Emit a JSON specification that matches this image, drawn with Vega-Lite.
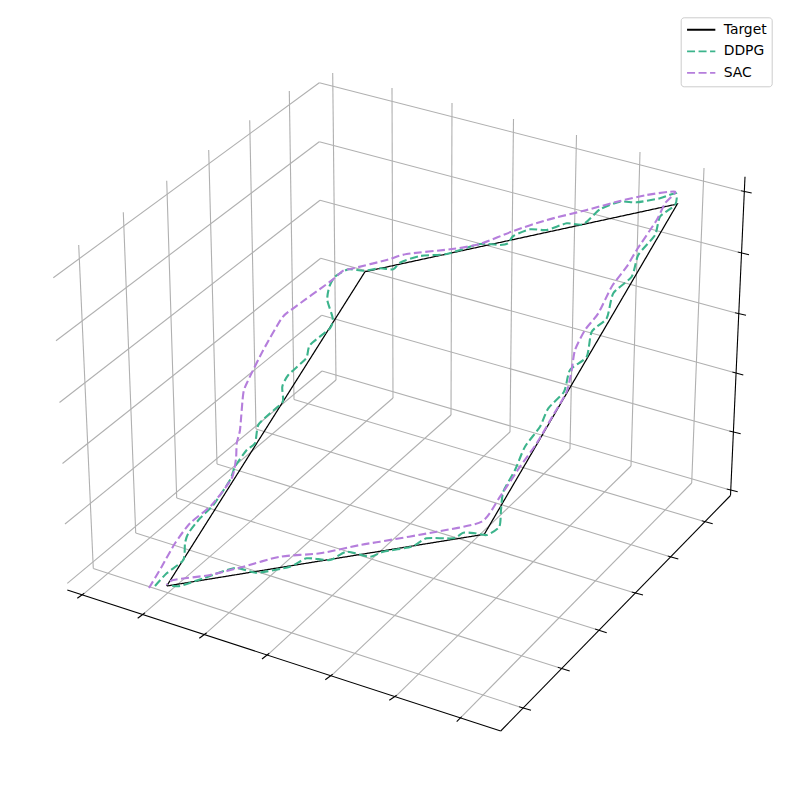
{"$schema":"https://vega.github.io/schema/vega-lite/v6.json","width":790,"height":790,"padding":0,"autosize":{"type":"fit","contains":"padding"},"background":"white","config":{"view":{"stroke":null}},
"datasets":{
"grid":[
{"x":78.7,"y":245,"x2":93.3,"y2":568.5},{"x":123.3,"y":212.3,"x2":135.7,"y2":533},{"x":166.7,"y":180.7,"x2":176.7,"y2":498},{"x":208.7,"y":150,"x2":217,"y2":464},{"x":249.7,"y":120.3,"x2":256,"y2":429},{"x":289.3,"y":91,"x2":294,"y2":399.5},
{"x":332.7,"y":73,"x2":336,"y2":380},{"x":392,"y":88,"x2":393,"y2":398},{"x":452,"y":103,"x2":451,"y2":415},{"x":513.5,"y":119,"x2":510,"y2":432},{"x":576.5,"y":135,"x2":570,"y2":449},{"x":640,"y":152,"x2":631,"y2":466},{"x":704,"y":168,"x2":691.7,"y2":483},
{"x":53.3,"y":277.7,"x2":319.3,"y2":82.7},{"x":56,"y":340.7,"x2":319.3,"y2":141.7},{"x":59.5,"y":402.5,"x2":320,"y2":200.3},{"x":62.5,"y":463.5,"x2":320.7,"y2":258.3},{"x":65,"y":524,"x2":321.7,"y2":315.3},{"x":67.3,"y":583.3,"x2":322,"y2":371},
{"x":319.3,"y":82.7,"x2":741,"y2":190.7},{"x":319.3,"y":141.7,"x2":737.7,"y2":252},{"x":320,"y":200.3,"x2":735,"y2":312.7},{"x":320.7,"y":258.3,"x2":732.3,"y2":372},{"x":321.7,"y":315.3,"x2":729.3,"y2":431},{"x":322,"y":371,"x2":726.7,"y2":489},
{"x":84.3,"y":593.3,"x2":336,"y2":380},{"x":145,"y":612.7,"x2":393,"y2":398},{"x":206.7,"y":632.7,"x2":451,"y2":415},{"x":269.3,"y":653.3,"x2":510,"y2":432},{"x":332.7,"y":674.3,"x2":570,"y2":449},{"x":396.7,"y":695.3,"x2":631,"y2":466},{"x":461.7,"y":716.7,"x2":691.7,"y2":483},
{"x":519,"y":706.7,"x2":93.3,"y2":568.5},{"x":557.7,"y":667.3,"x2":135.7,"y2":533},{"x":595,"y":629,"x2":176.7,"y2":498},{"x":631.7,"y":592,"x2":217,"y2":464},{"x":667.7,"y":556,"x2":256,"y2":429},{"x":701.7,"y":520.7,"x2":294,"y2":399.5}
],
"axes":[
{"x":67.3,"y":590,"x2":500.7,"y2":731},{"x":500.7,"y":731,"x2":730.5,"y2":495.5},{"x":730.5,"y":495.5,"x2":745,"y2":176.7},
{"x":77.3,"y":598.3,"x2":84.3,"y2":593.3},{"x":137.7,"y":618.3,"x2":145,"y2":612.7},{"x":199.3,"y":638.3,"x2":206.7,"y2":632.7},{"x":262,"y":659,"x2":269.3,"y2":653.3},{"x":325.3,"y":679.7,"x2":332.7,"y2":674.3},{"x":389.3,"y":700.3,"x2":396.7,"y2":695.3},{"x":456.7,"y":721.7,"x2":461.7,"y2":716.7},
{"x":519,"y":706.7,"x2":531,"y2":710.3},{"x":557.7,"y":667.3,"x2":569.7,"y2":671},{"x":595,"y":629,"x2":606.7,"y2":632.7},{"x":631.7,"y":592,"x2":643,"y2":595},{"x":667.7,"y":556,"x2":678.3,"y2":559},{"x":701.7,"y":520.7,"x2":712.7,"y2":523.7},
{"x":741,"y":190.7,"x2":751.7,"y2":193},{"x":737.7,"y":252,"x2":749,"y2":254.7},{"x":735,"y":312.7,"x2":746,"y2":315.3},{"x":732.3,"y":372,"x2":743.3,"y2":375},{"x":729.3,"y":431,"x2":740.7,"y2":433.7},{"x":726.7,"y":489,"x2":737.7,"y2":491.7}
],
"target":[{"s":"Target","x":166.7,"y":586},{"s":"Target","x":484.3,"y":534.3},{"s":"Target","x":677.3,"y":204},{"s":"Target","x":365,"y":271.7},{"s":"Target","x":166.7,"y":586}],
"curves":[
{"s":"DDPG","x":155,"y":586},{"s":"DDPG","x":166.7,"y":573.3},{"s":"DDPG","x":183.3,"y":560},{"s":"DDPG","x":185,"y":543.3},{"s":"DDPG","x":188.3,"y":533.3},{"s":"DDPG","x":200,"y":518.3},{"s":"DDPG","x":213.3,"y":505},{"s":"DDPG","x":230,"y":480},{"s":"DDPG","x":235,"y":466.7},{"s":"DDPG","x":246.7,"y":450},{"s":"DDPG","x":255,"y":443.3},{"s":"DDPG","x":258.3,"y":425},{"s":"DDPG","x":270,"y":413.3},{"s":"DDPG","x":282.7,"y":401.7},{"s":"DDPG","x":282.3,"y":386.7},{"s":"DDPG","x":288.3,"y":375},{"s":"DDPG","x":306,"y":358.3},{"s":"DDPG","x":310,"y":345},{"s":"DDPG","x":330,"y":328.3},{"s":"DDPG","x":332.7,"y":318.3},{"s":"DDPG","x":327.3,"y":300},{"s":"DDPG","x":329.3,"y":286.7},{"s":"DDPG","x":335,"y":276.7},{"s":"DDPG","x":348.3,"y":269.3},{"s":"DDPG","x":363.3,"y":270.7},{"s":"DDPG","x":380,"y":268.3},{"s":"DDPG","x":393.3,"y":269.3},{"s":"DDPG","x":400,"y":262.7},{"s":"DDPG","x":420,"y":256},{"s":"DDPG","x":446.7,"y":254},{"s":"DDPG","x":480,"y":244},{"s":"DDPG","x":500,"y":245},{"s":"DDPG","x":508,"y":243.3},{"s":"DDPG","x":513.3,"y":236},{"s":"DDPG","x":530,"y":229.3},{"s":"DDPG","x":546.7,"y":230},{"s":"DDPG","x":566.7,"y":223.3},{"s":"DDPG","x":583.3,"y":224.3},{"s":"DDPG","x":600,"y":209.3},{"s":"DDPG","x":620,"y":201.7},{"s":"DDPG","x":636.7,"y":202.3},{"s":"DDPG","x":660,"y":198.3},{"s":"DDPG","x":676,"y":193.3},{"s":"DDPG","x":675,"y":205},{"s":"DDPG","x":660,"y":216.7},{"s":"DDPG","x":655,"y":235},{"s":"DDPG","x":638.3,"y":255},{"s":"DDPG","x":631.7,"y":276.7},{"s":"DDPG","x":613.3,"y":293.3},{"s":"DDPG","x":606.7,"y":318.3},{"s":"DDPG","x":591.7,"y":331.7},{"s":"DDPG","x":586.7,"y":356.7},{"s":"DDPG","x":570,"y":370},{"s":"DDPG","x":564,"y":391.7},{"s":"DDPG","x":548.3,"y":408.3},{"s":"DDPG","x":540,"y":426.7},{"s":"DDPG","x":525,"y":446.7},{"s":"DDPG","x":515,"y":470},{"s":"DDPG","x":503.3,"y":491.7},{"s":"DDPG","x":501,"y":510},{"s":"DDPG","x":499.3,"y":526.7},{"s":"DDPG","x":486.7,"y":535},{"s":"DDPG","x":475,"y":533.3},{"s":"DDPG","x":463.3,"y":532.7},{"s":"DDPG","x":453.3,"y":538.3},{"s":"DDPG","x":426.7,"y":538.3},{"s":"DDPG","x":411.7,"y":546.7},{"s":"DDPG","x":383.3,"y":551.7},{"s":"DDPG","x":370,"y":556.7},{"s":"DDPG","x":346.7,"y":551.7},{"s":"DDPG","x":330,"y":560},{"s":"DDPG","x":306.7,"y":558.3},{"s":"DDPG","x":290,"y":566.7},{"s":"DDPG","x":256.7,"y":572.7},{"s":"DDPG","x":235,"y":568},{"s":"DDPG","x":203.3,"y":578.3},{"s":"DDPG","x":180,"y":586},{"s":"DDPG","x":168.3,"y":585},
{"s":"SAC","x":149,"y":588},{"s":"SAC","x":161.7,"y":566.7},{"s":"SAC","x":175,"y":543.3},{"s":"SAC","x":190,"y":523.3},{"s":"SAC","x":211.7,"y":505},{"s":"SAC","x":231.7,"y":478.3},{"s":"SAC","x":236,"y":458.3},{"s":"SAC","x":236.7,"y":443.3},{"s":"SAC","x":240,"y":430},{"s":"SAC","x":243.3,"y":393.3},{"s":"SAC","x":248.3,"y":380},{"s":"SAC","x":263.3,"y":350},{"s":"SAC","x":281.7,"y":318.3},{"s":"SAC","x":293.3,"y":308.3},{"s":"SAC","x":330,"y":281.7},{"s":"SAC","x":343.3,"y":270.7},{"s":"SAC","x":353.3,"y":268.3},{"s":"SAC","x":386.7,"y":260},{"s":"SAC","x":406.7,"y":254},{"s":"SAC","x":450,"y":249.3},{"s":"SAC","x":480,"y":244},{"s":"SAC","x":513.3,"y":231},{"s":"SAC","x":546.7,"y":220},{"s":"SAC","x":586.7,"y":210},{"s":"SAC","x":620,"y":201},{"s":"SAC","x":646.7,"y":195},{"s":"SAC","x":675,"y":191.7},{"s":"SAC","x":665,"y":203.3},{"s":"SAC","x":656.7,"y":220},{"s":"SAC","x":636.7,"y":250},{"s":"SAC","x":626.7,"y":266.7},{"s":"SAC","x":611.7,"y":286.7},{"s":"SAC","x":598.3,"y":313.3},{"s":"SAC","x":585,"y":330},{"s":"SAC","x":575,"y":350},{"s":"SAC","x":571.7,"y":370},{"s":"SAC","x":566.7,"y":391.7},{"s":"SAC","x":553.3,"y":415},{"s":"SAC","x":536.7,"y":443.3},{"s":"SAC","x":520,"y":466.7},{"s":"SAC","x":500,"y":496.7},{"s":"SAC","x":481.7,"y":521.7},{"s":"SAC","x":436.7,"y":531.7},{"s":"SAC","x":380,"y":541.7},{"s":"SAC","x":360,"y":545},{"s":"SAC","x":320,"y":553.3},{"s":"SAC","x":280,"y":556.7},{"s":"SAC","x":243.3,"y":566.7},{"s":"SAC","x":210,"y":575},{"s":"SAC","x":173.3,"y":580},{"s":"SAC","x":166.7,"y":585}
]},
"layer":[
{"data":{"name":"grid"},"mark":{"type":"rule","color":"#b0b0b0","strokeWidth":1.1},
"encoding":{"x":{"field":"x","type":"quantitative","scale":{"domain":[0,790]},"axis":null},"y":{"field":"y","type":"quantitative","scale":{"domain":[790,0]},"axis":null},"x2":{"field":"x2"},"y2":{"field":"y2"}}},
{"data":{"name":"axes"},"mark":{"type":"rule","color":"#000000","strokeWidth":1.1},
"encoding":{"x":{"field":"x","type":"quantitative","scale":{"domain":[0,790]},"axis":null},"y":{"field":"y","type":"quantitative","scale":{"domain":[790,0]},"axis":null},"x2":{"field":"x2"},"y2":{"field":"y2"}}},
{"data":{"name":"target"},"mark":{"type":"line","strokeWidth":1.25,"interpolate":"linear"},
"encoding":{"x":{"field":"x","type":"quantitative","scale":{"domain":[0,790]},"axis":null},"y":{"field":"y","type":"quantitative","scale":{"domain":[790,0]},"axis":null},"order":{"value":null},"detail":{"field":"s"},
"color":{"field":"s","type":"nominal","title":null,"scale":{"domain":["Target","DDPG","SAC"],"range":["#000000","#3cb48c","#b57edc"]},"legend":{"orient":"none","legendX":680.7,"legendY":17.3,"padding":5,"rowPadding":6.6,"clipHeight":14.9,"symbolType":"stroke","symbolSize":800,"symbolStrokeWidth":1.8,"labelFont":"DejaVu Sans","labelFontSize":13.9,"labelColor":"#000000","labelOffset":7,"fillColor":"white","strokeColor":"#cccccc","cornerRadius":3,"title":null}},
"strokeDash":{"field":"s","type":"nominal","title":null,"scale":{"domain":["Target","DDPG","SAC"],"range":[[1,0],[8,3.5],[8,3.5]]}}}},
{"data":{"name":"curves"},"mark":{"type":"line","strokeWidth":2.1,"interpolate":"cardinal","tension":0.35},
"encoding":{"x":{"field":"x","type":"quantitative","scale":{"domain":[0,790]},"axis":null},"y":{"field":"y","type":"quantitative","scale":{"domain":[790,0]},"axis":null},"order":{"value":null},"detail":{"field":"s"},
"color":{"field":"s","type":"nominal","title":null,"scale":{"domain":["Target","DDPG","SAC"],"range":["#000000","#3cb48c","#b57edc"]}},
"strokeDash":{"field":"s","type":"nominal","title":null,"scale":{"domain":["Target","DDPG","SAC"],"range":[[1,0],[8,3.5],[8,3.5]]}}}}
]}
